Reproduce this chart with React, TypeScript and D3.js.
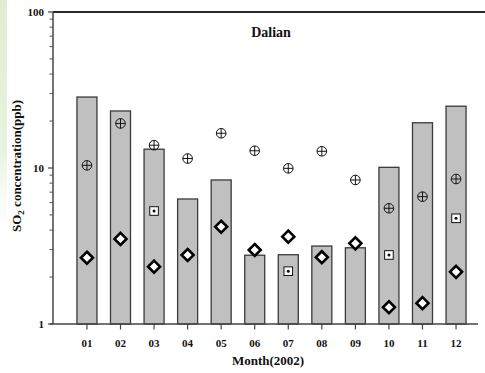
import React from "react";
import * as d3 from "d3";

const months = ["01", "02", "03", "04", "05", "06", "07", "08", "09", "10", "11", "12"];
const barValues = [28.5, 23.2, 13.2, 6.33, 8.38, 2.76, 2.78, 3.16, 3.08, 10.1, 19.5, 24.9];
const circleValues = [10.4, 19.3, 14.0, 11.5, 16.7, 12.9, 9.95, 12.8, 8.38, 5.52, 6.55, 8.5];
const squareValues: (number | null)[] = [null, null, 5.3, null, null, null, 2.18, null, null, 2.77, null, 4.76];
const diamondValues = [2.66, 3.51, 2.33, 2.77, 4.2, 2.98, 3.63, 2.68, 3.29, 1.28, 1.36, 2.16];
const yMajorTicks = [1, 10, 100];
const title = "Dalian";
const xTitle = "Month(2002)";

const W = 485;
const H = 373;
const FONT = "'Liberation Serif', 'Times New Roman', serif";

export default function App() {
  const x = d3.scaleLinear().domain([0, 13]).range([53.4, 489.6]);
  const y = d3.scaleLog().domain([1, 100]).range([324, 12]);
  const minorTicks: number[] = [];
  for (const dec of [1, 10]) for (let k = 2; k <= 9; k++) minorTicks.push(dec * k);
  const barW = 20;
  const dia = 6;
  return (
    <svg width={W} height={H} style={{ position: "absolute", left: 0, top: 0, background: "#fff" }}>
      <defs>
        <linearGradient id="gv" x1="0" x2="0" y1="0" y2="1">
          <stop offset="0" stopColor="#dfeed2" />
          <stop offset="0.6" stopColor="#e8f3df" />
          <stop offset="1" stopColor="#ffffff" stopOpacity="0" />
        </linearGradient>
      </defs>
      <rect x={0} y={0} width={W} height={H} fill="#fff" />
      <rect x={0} y={0} width={7} height={250} fill="url(#gv)" />
      {/* bars */}
      {barValues.map((v, i) => (
        <rect key={"b" + i} x={x(i + 1) - barW / 2} y={y(v)} width={barW} height={y(1) - y(v)}
          fill="#c0c0c0" stroke="#3a3a3a" strokeWidth={1.3} />
      ))}
      {/* axes */}
      <line x1={53} x2={W} y1={12} y2={12} stroke="#2a2a2a" strokeWidth={2} />
      <line x1={53} x2={53} y1={12} y2={324} stroke="#444" strokeWidth={1.5} />
      <line x1={50} x2={478} y1={324} y2={324} stroke="#444" strokeWidth={1.5} />
      {yMajorTicks.map((t) => (
        <g key={"yt" + t}>
          <line x1={48} x2={53} y1={y(t)} y2={y(t)} stroke="#444" strokeWidth={1.2} />
          <text x={44} y={y(t)} dy="0.35em" textAnchor="end" fontFamily={FONT} fontWeight="bold" fontSize={11} fill="#111">{t}</text>
        </g>
      ))}
      {minorTicks.map((t) => (
        <line key={"ym" + t} x1={49.5} x2={53} y1={y(t)} y2={y(t)} stroke="#555" strokeWidth={1} />
      ))}
      {months.map((m, i) => (
        <g key={"xt" + m}>
          <line x1={x(i + 1)} x2={x(i + 1)} y1={324} y2={329.5} stroke="#444" strokeWidth={1.2} />
          <text x={x(i + 1)} y={347} textAnchor="middle" fontFamily={FONT} fontWeight="bold" fontSize={11} fill="#111">{m}</text>
        </g>
      ))}
      {/* circles with cross */}
      {circleValues.map((v, i) => {
        const cx = x(i + 1), cy = y(v);
        return (
          <g key={"c" + i} stroke="#111" strokeWidth={1} fill="none">
            <circle cx={cx} cy={cy} r={4.8} />
            <line x1={cx - 4.8} x2={cx + 4.8} y1={cy} y2={cy} />
            <line x1={cx} x2={cx} y1={cy - 4.8} y2={cy + 4.8} />
          </g>
        );
      })}
      {/* squares with dot */}
      {squareValues.map((v, i) => {
        if (v == null) return null;
        const cx = x(i + 1), cy = y(v);
        return (
          <g key={"s" + i}>
            <rect x={cx - 4.3} y={cy - 4.3} width={8.6} height={8.6} fill="#fff" stroke="#111" strokeWidth={1} />
            <circle cx={cx} cy={cy} r={1.5} fill="#111" />
          </g>
        );
      })}
      {/* diamonds */}
      {diamondValues.map((v, i) => {
        const cx = x(i + 1), cy = y(v);
        return (
          <polygon key={"d" + i}
            points={`${cx},${cy - dia} ${cx + dia},${cy} ${cx},${cy + dia} ${cx - dia},${cy}`}
            fill="#fff" stroke="#000" strokeWidth={2.6} strokeLinejoin="miter" />
        );
      })}
      <text x={271} y={37} textAnchor="middle" fontFamily={FONT} fontWeight="bold" fontSize={14} fill="#111">{title}</text>
      <text x={268} y={365} textAnchor="middle" fontFamily={FONT} fontWeight="bold" fontSize={13} fill="#111">{xTitle}</text>
      <text transform="translate(21,166) rotate(-90)" textAnchor="middle" fontFamily={FONT} fontWeight="bold" fontSize={13} fill="#111">
        SO<tspan fontSize={9} dy={3}>2</tspan><tspan dy={-3}> concentration(ppb)</tspan>
      </text>
    </svg>
  );
}
